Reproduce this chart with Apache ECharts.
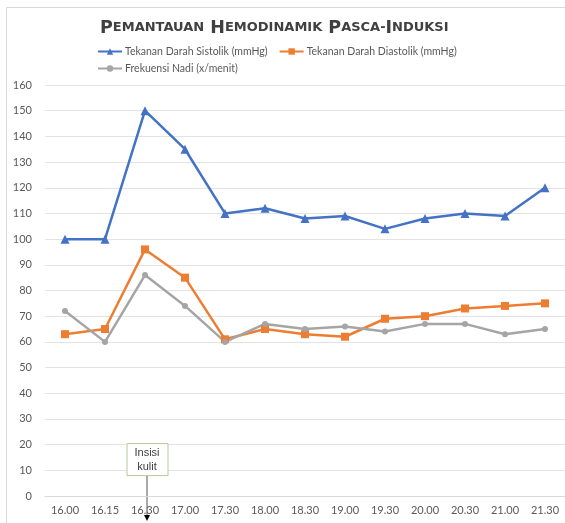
<!DOCTYPE html>
<html>
<head>
<meta charset="utf-8">
<script src="https://cdn.jsdelivr.net/npm/echarts@6/dist/echarts.min.js"></script>
<style>
  html, body { margin: 0; padding: 0; background: #fff; }
  #chart { width: 565px; height: 523px; }
</style>
</head>
<body>
<div id="chart"></div>
<script>
// data
const jam = ['16.00', '16.15', '16.30', '17.00', '17.30', '18.00', '18.30', '19.00', '19.30', '20.00', '20.30', '21.00', '21.30'];
const sistolik = [100, 100, 150, 135, 110, 112, 108, 109, 104, 108, 110, 109, 120];
const diastolik = [63, 65, 96, 85, 61, 65, 63, 62, 69, 70, 73, 74, 75];
const nadi = [72, 60, 86, 74, 60, 67, 65, 66, 64, 67, 67, 63, 65];

const namaSeri = ['Tekanan Darah Sistolik (mmHg)', 'Tekanan Darah Diastolik (mmHg)', 'Frekuensi Nadi (x/menit)'];

const fontUI = 'Lato, "Noto Sans", sans-serif';
const gray = '#595959';

// small caps title built from rich text pieces
function smallCaps(text) {
  return text.split(' ').map(w => w.split('-').map(p =>
    '{b|' + p[0] + '}{s|' + p.slice(1).toUpperCase() + '}'
  ).join('{s|-}')).join('{b| }');
}

const legendBase = {
  itemWidth: 24,
  itemHeight: 8,
  itemGap: 11,
  textStyle: { color: gray, fontSize: 10.5, fontFamily: fontUI, padding: [0, 0, 0, -2] }
};

const chart = echarts.init(document.getElementById('chart'));

const option = {
  animation: false,
  title: {
    text: smallCaps('Pemantauan Hemodinamik Pasca-Induksi'),
    left: 95,
    top: 14,
    textStyle: {
      rich: {
        b: { fontSize: 17.5, fontWeight: 'bold', color: '#404040', fontFamily: '"DejaVu Sans", sans-serif' },
        s: { fontSize: 13, fontWeight: 'bold', color: '#404040', fontFamily: '"DejaVu Sans", sans-serif' }
      }
    }
  },
  legend: [
    Object.assign({ left: 92, top: 41, data: namaSeri.slice(0, 2) }, legendBase),
    Object.assign({ left: 92, top: 58, data: namaSeri.slice(2) }, legendBase)
  ],
  grid: { left: 45, right: 0, top: 85, bottom: 27 },
  xAxis: {
    type: 'category',
    data: jam,
    axisLine: { lineStyle: { color: '#d9d9d9' } },
    axisTick: { show: false },
    axisLabel: { color: gray, fontSize: 11, fontFamily: fontUI, margin: 9 }
  },
  yAxis: {
    type: 'value',
    min: 0,
    max: 160,
    interval: 10,
    axisLabel: { color: gray, fontSize: 11, fontFamily: fontUI, margin: 13 },
    splitLine: { lineStyle: { color: '#e3e3e3' } }
  },
  series: [
    {
      name: namaSeri[0],
      type: 'line',
      data: sistolik,
      color: '#4472C4',
      symbol: 'triangle',
      symbolSize: 9,
      lineStyle: { width: 2.5 }
    },
    {
      name: namaSeri[1],
      type: 'line',
      data: diastolik,
      color: '#ED7D31',
      symbol: 'rect',
      symbolSize: 8,
      lineStyle: { width: 2.5 }
    },
    {
      name: namaSeri[2],
      type: 'line',
      data: nadi,
      color: '#A5A5A5',
      symbol: 'circle',
      symbolSize: 6,
      lineStyle: { width: 2.5 }
    }
  ]
};

chart.setOption(option);

// annotation for "Insisi kulit", anchored at the 16.30 category
const ax = chart.convertToPixel({ xAxisIndex: 0 }, '16.30') + 2;
const boxTop = chart.convertToPixel({ yAxisIndex: 0 }, 20);
chart.setOption({
  graphic: [
    {
      type: 'rect',
      shape: { x: 6.5, y: 7.5, width: 600, height: 600 },
      style: { fill: 'none', stroke: '#d9d9d9', lineWidth: 1 },
      silent: true
    },
    {
      type: 'line',
      shape: { x1: ax, y1: boxTop + 31, x2: ax, y2: 517 },
      style: { stroke: '#555', lineWidth: 1 }
    },
    {
      type: 'polygon',
      shape: { points: [[ax - 3, 515], [ax + 3, 515], [ax, 521]] },
      style: { fill: '#000' }
    },
    {
      type: 'rect',
      shape: { x: ax - 20, y: boxTop - 1, width: 41, height: 32 },
      style: { fill: '#fff', stroke: '#b5c99a', lineWidth: 1 }
    },
    {
      type: 'text',
      x: ax,
      y: boxTop + 15,
      style: {
        text: 'Insisi\nkulit',
        align: 'center',
        verticalAlign: 'middle',
        fill: '#404040',
        fontSize: 11,
        lineHeight: 14,
        fontFamily: '"Liberation Sans Narrow", "Liberation Sans", sans-serif'
      }
    }
  ]
});
</script>
</body>
</html>
